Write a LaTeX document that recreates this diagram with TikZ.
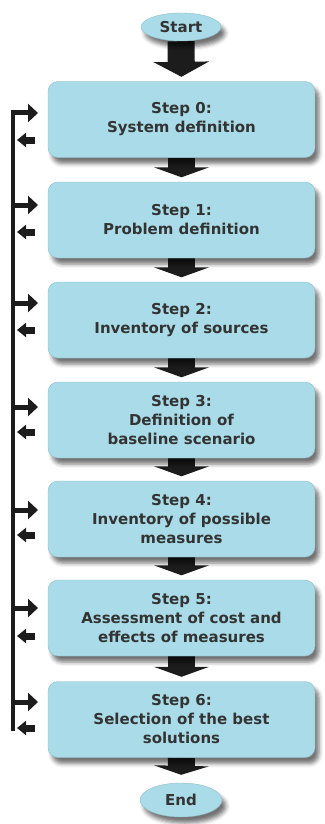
\documentclass[tikz,border=0pt]{standalone}
\usepackage{fontspec}
\setmainfont{DejaVu Sans}
\usetikzlibrary{arrows.meta,shadows.blur,backgrounds,shapes.geometric}
\definecolor{boxfill}{HTML}{A9DCE8}
\definecolor{txt}{HTML}{333333}
\definecolor{dark}{HTML}{1C1C1C}
\begin{document}
\begin{tikzpicture}[x=1pt,y=-1pt,
  shad/.style={blur shadow={shadow xshift=4pt,shadow yshift=-6pt,shadow blur radius=4pt,shadow opacity=55}},
  stepbox/.style={shad,rectangle,rounded corners=10pt,fill=boxfill,draw=boxfill!85!black,line width=0.4pt,
    minimum width=267pt,minimum height=76pt,align=center,text=txt,
    font=\fontsize{15}{19}\selectfont\bfseries},
  term/.style={shad,ellipse,fill=boxfill,draw=boxfill!85!black,line width=0.4pt,inner sep=0pt,
    text=txt,font=\fontsize{15}{19}\selectfont\bfseries},
  fat/.style={dark,line width=27pt,-{Triangle[length=#1,width=55pt]}},
  fat/.default=10pt,
  rarr/.style={dark,line width=5pt,-{Triangle[length=10pt,width=18pt]}},
  larr/.style={dark,line width=7pt,-{Triangle[length=9pt,width=14pt]}}]
\useasboundingbox (0,0) rectangle (324,824);
\node[term,minimum width=80pt,minimum height=28pt] (start) at (181,27) {Start};
\node[stepbox] (s0) at (181.5,119.5) {Step 0:\\System definition};
\node[stepbox] (s1) at (181.5,220) {Step 1:\\Problem definition};
\node[stepbox] (s2) at (181.5,320) {Step 2:\\Inventory of sources};
\node[stepbox] (s3) at (181.5,420) {Step 3:\\Definition of\\baseline scenario};
\node[stepbox] (s4) at (181.5,519) {Step 4:\\Inventory of possible\\measures};
\node[stepbox] (s5) at (181.5,618) {Step 5:\\Assessment of cost and\\effects of measures};
\node[stepbox] (s6) at (181.5,719.5) {Step 6:\\Selection of the best\\solutions};
\node[term,minimum width=82pt,minimum height=34pt] (end) at (181,800) {End};
\begin{scope}[on background layer]
  \draw[fat=15pt,shorten >=4.5pt] (start.south) -- (s0.north);
  \draw[fat,shorten >=4.5pt] (s0.south) -- (s1.north);
  \draw[fat,shorten >=4.5pt] (s1.south) -- (s2.north);
  \draw[fat,shorten >=4.5pt] (s2.south) -- (s3.north);
  \draw[fat,shorten >=4.5pt] (s3.south) -- (s4.north);
  \draw[fat,shorten >=4.5pt] (s4.south) -- (s5.north);
  \draw[fat,shorten >=4.5pt] (s5.south) -- (s6.north);
  \draw[fat=9pt,shorten >=8pt] (s6.south) -- (end.north);
\end{scope}
\coordinate (ltop) at (13,110.5);
\coordinate (lbot) at (13,731);
\draw[dark,line width=4pt] (ltop) -- (lbot);
\foreach \i/\ra/\la in {0/113/140,1/205/232,2/303/330,3/407/432,4/510/535,5/608/636,6/702/728}{
  \coordinate (ra\i) at (11,\ra);
  \coordinate (rb\i) at (38,\ra);
  \coordinate (la\i) at (35,\la);
  \coordinate (lb\i) at (17,\la);
  \draw[rarr] (ra\i) -- (rb\i);
  \draw[larr] (la\i) -- (lb\i);
}
\end{tikzpicture}
\end{document}
